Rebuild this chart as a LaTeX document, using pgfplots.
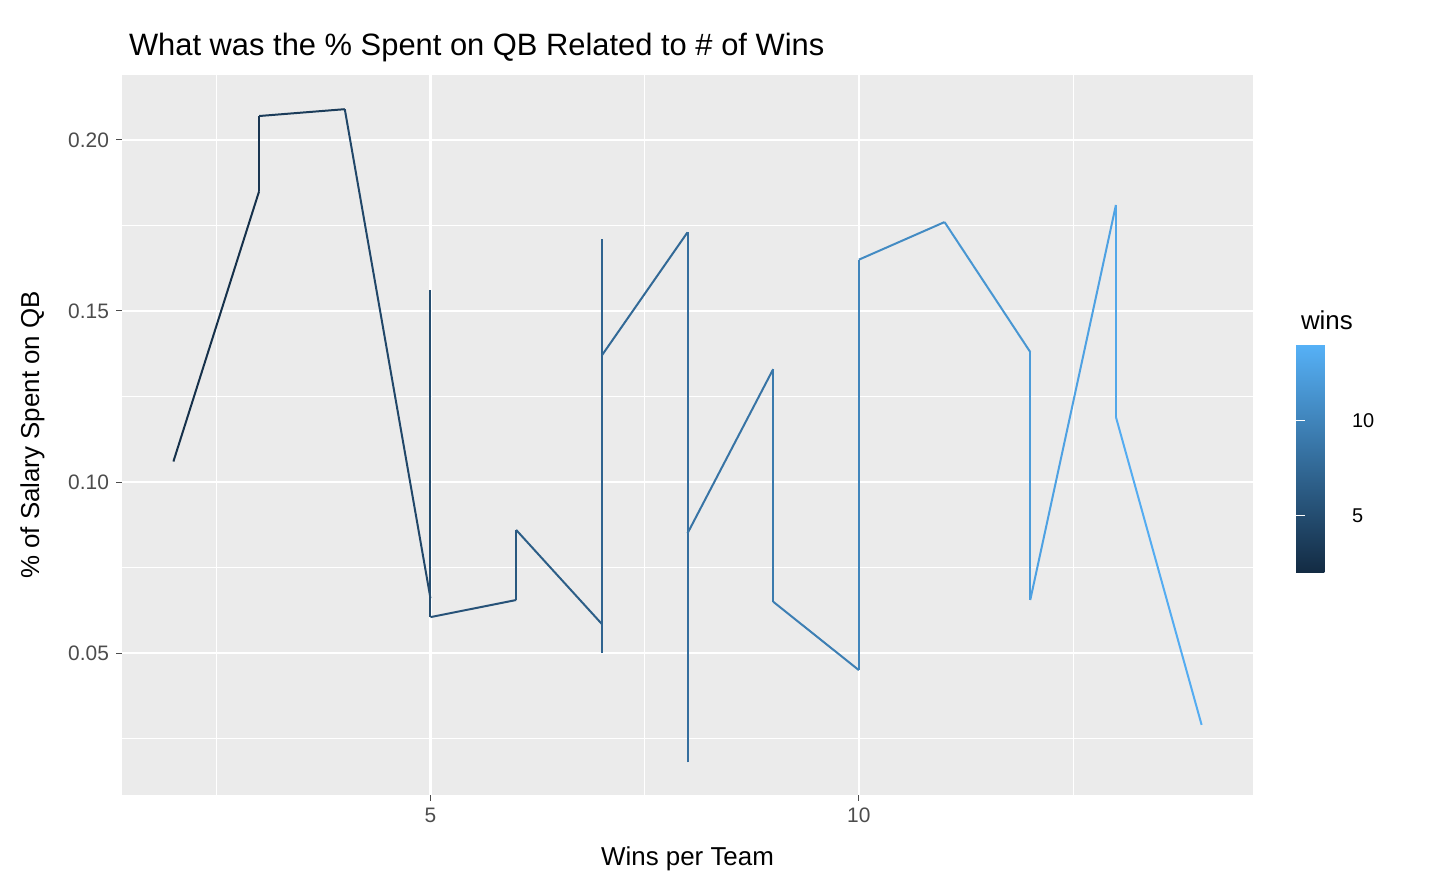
\documentclass[border=0pt]{standalone}
\usepackage{pgfplots}
\pgfplotsset{compat=1.18}
\usepackage{fontspec}
\setmainfont{Liberation Sans}
\definecolor{bg}{HTML}{EBEBEB}
\definecolor{lo}{HTML}{132B43}
\definecolor{hi}{HTML}{56B1F7}
\begin{document}
\begin{tikzpicture}[x=1bp,y=1bp]
\useasboundingbox (0,0) rectangle (720,445);
\begin{axis}[
  at={(61bp,47.5bp)}, anchor=south west,
  scale only axis, width=565.5bp, height=360bp,
  xmin=1.4, xmax=14.6, ymin=0.0085, ymax=0.219,
  axis background/.style={fill=bg}, axis line style={draw=none},
  xtick={5,10}, ytick={0.05,0.10,0.15,0.20},
  minor xtick={2.5,7.5,12.5}, minor ytick={0.025,0.075,0.125,0.175},
  yticklabel style={/pgf/number format/.cd,fixed,fixed zerofill,precision=2},
  /pgf/number format/assume math mode=true,
  grid=both, major grid style={white,line width=1.1pt}, minor grid style={white,line width=0.55pt},
  xtick pos=lower, ytick pos=left, tick align=outside,
  tick style={draw=gray!60!black,line width=0.5pt}, major tick length=3bp, minor tick length=0pt,
  ticklabel style={font=\fontsize{10.5}{11}\selectfont, text=black!70},
  xlabel={Wins per Team}, ylabel={\% of Salary Spent on QB},
  label style={font=\fontsize{13}{14}\selectfont},
  xlabel style={yshift=-5bp}, ylabel style={yshift=5bp},
  title={What was the \% Spent on QB Related to \# of Wins},
  title style={font=\fontsize{15.5}{16}\selectfont, at={(0,1)}, anchor=south west, yshift=-3bp},
  colormap={gg}{color(2)=(lo) color(14)=(hi)},
  point meta min=2, point meta max=14,
  colorbar right,
  colorbar style={at={(1.038,0.626)}, anchor=north west, width=22.5bp, height=114bp,
    ytick={5,10}, ymin=2, ymax=14, yticklabel pos=right,
    yticklabel style={font=\fontsize{10}{11}\selectfont, text=black, xshift=2bp},
    major tick length=4.5bp, tick style={draw=white,line width=0.5pt},
    axis line style={draw=none},
    title={wins}, title style={font=\fontsize{13}{14}\selectfont, at={(0,1)}, anchor=south west, xshift=-1bp, yshift=-2bp},
    /pgf/number format/assume math mode=true},
]
\addplot[mesh, point meta=x, line width=1pt] coordinates {
(2,0.106) (3,0.185) (3,0.207) (4,0.209)
(5,0.066) (5,0.156) (5,0.0605)
(6,0.0655) (6,0.086)
(7,0.0585) (7,0.050) (7,0.072) (7,0.171) (7,0.113) (7,0.137)
(8,0.173) (8,0.018) (8,0.085)
(9,0.133) (9,0.095) (9,0.065)
(10,0.045) (10,0.165)
(11,0.176)
(12,0.138) (12,0.0655)
(13,0.181) (13,0.119)
(14,0.029)
};
\end{axis}
\end{tikzpicture}
\end{document}
